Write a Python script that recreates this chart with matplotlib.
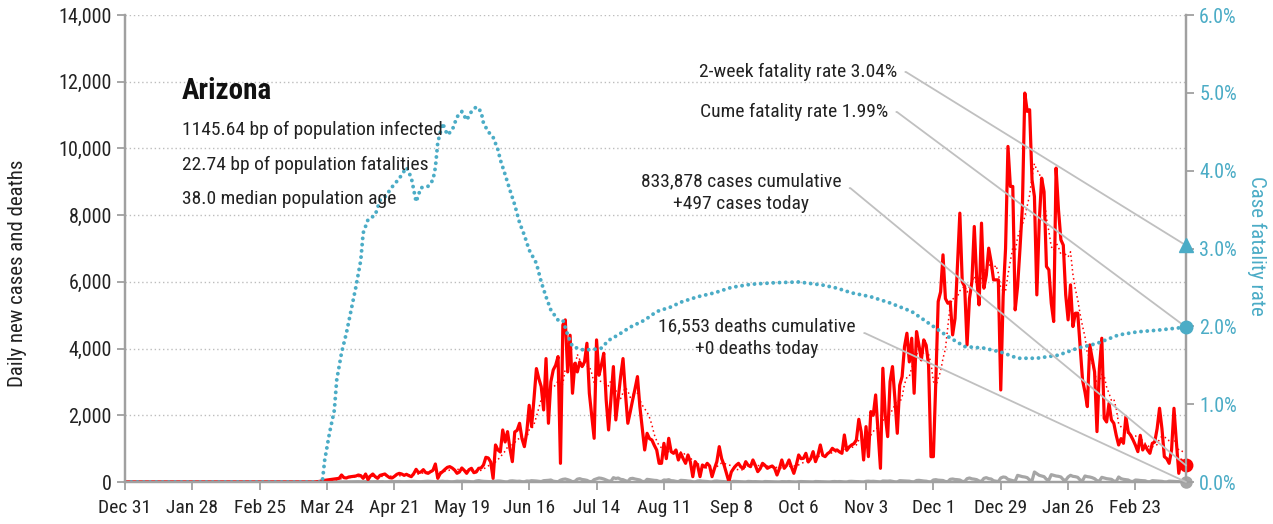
import matplotlib
matplotlib.use('Agg')
import matplotlib.pyplot as plt
import matplotlib.dates as mdates
from matplotlib.ticker import FuncFormatter, FixedLocator
import numpy as np
import pandas as pd

plt.rcParams['font.family'] = ['Roboto Condensed', 'DejaVu Sans']

start = pd.Timestamp('2019-12-31')

# daily new cases, Dec 31 2019 .. Mar 16 2021
cases = [0] * 80 + [
    10, 20, 40, 50, 60, 70, 80,
    90, 100, 110, 210, 130, 120, 150,
    160, 170, 180, 210, 190, 110, 240,
    70, 180, 240, 160, 110, 200, 220,
    240, 180, 130, 120, 170, 230, 260,
    240, 200, 230, 190, 160, 250, 380,
    280, 300, 370, 280, 260, 310, 350,
    540, 110, 250, 310, 380, 440, 460,
    420, 360, 260, 300, 420, 350, 260,
    370, 410, 280, 300, 410, 420, 510,
    740, 720, 600, 110, 1110, 960, 900,
    1560, 1200, 1510, 1000, 610, 1500, 1550,
    1760, 1300, 1060, 1500, 2300, 1660, 2500,
    3400, 3100, 2860, 2160, 3700, 1760, 3000,
    3360, 3500, 3760, 560, 4710, 4860, 3300,
    4400, 2660, 3560, 3300, 3600, 3460, 3600,
    4160, 2660, 2000, 1310, 4260, 3200, 3500,
    3860, 2460, 1560, 2500, 3460, 1860, 2500,
    3160, 3700, 2660, 1760, 2100, 2460, 2800,
    3160, 2260, 1600, 960, 1460, 1300, 1260,
    1100, 960, 560, 560, 1160, 700, 1310,
    910, 860, 960, 660, 860, 700, 560,
    810, 600, 160, 610, 500, 160, 510,
    450, 560, 480, 160, 400, 610, 1060,
    700, 510, 260, 10, 300, 410, 500,
    560, 450, 410, 610, 500, 460, 660,
    500, 310, 400, 560, 500, 410, 450,
    480, 410, 210, 400, 660, 410, 500,
    660, 450, 260, 500, 810, 700, 710,
    860, 600, 700, 910, 610, 800, 1110,
    800, 760, 850, 900, 1010, 950, 960,
    900, 860, 1410, 950, 1050, 1110, 1150,
    1260, 1880, 1500, 660, 1660, 760, 2110,
    2000, 2610, 1500, 410, 3410, 2000, 1360,
    3010, 3460, 2500, 1460, 2900, 3160, 4060,
    4460, 3600, 4310, 2660, 4510, 4100, 3660,
    4260, 4100, 3500, 760, 760, 3000, 5410,
    5700, 6810, 5500, 5360, 5400, 4410, 4900,
    6500, 8060, 6000, 5860, 4110, 5500, 6000,
    7660, 6100, 5310, 7760, 5810, 6200, 7010,
    6600, 6060, 6060, 6060, 2760, 5560, 7000,
    10060, 8860, 8860, 5160, 5860, 7000, 8260,
    11660, 11110, 11160, 9060, 8560, 5610, 7800,
    9110, 8700, 6460, 6360, 5360, 4810, 9410,
    8160, 7260, 7100, 5610, 4860, 5910, 4660,
    5060, 5060, 4060, 3060, 2700, 2260, 4110,
    3700, 3300, 1510, 3400, 4310, 1910, 1800,
    2360, 1860, 1760, 1400, 1110, 1300, 1160,
    1960, 1500, 1400, 1260, 1100, 910, 1400,
    960, 1100, 960, 860, 1160, 1200, 1600,
    2210, 1600, 760, 700, 560, 960, 2210,
    1200, 260, 660, 460, 497,
]

# daily new deaths
deaths = [0] * 80 + [
    0, 1, 0, 2, 1, 3, 2, 2, 4, 3, 5, 4, 6, 7, 5, 8, 9, 10, 7, 6, 12, 10, 8, 9, 11, 13, 10, 12, 7, 9, 11, 10,
    14, 12, 16, 10, 9, 13, 15, 18, 20, 14, 12, 10, 16, 19, 22, 18, 15, 10, 12, 20, 24, 15, 18, 9, 8, 12, 25, 20,
    22, 25, 18, 15, 8, 6, 30, 40, 28, 20, 17, 12, 10, 25, 22, 30, 28, 18, 6, 5, 30, 35, 27, 20, 25, 10, 8, 30,
    25, 40, 35, 30, 20, 12, 40, 45, 50, 60, 25, 15, 10, 55, 80, 90, 70, 45, 10, 20, 85, 100, 75, 65, 50, 15, 10, 70,
    95, 120, 110, 90, 60, 30, 25, 130, 105, 120, 80, 70, 40, 15, 100, 110, 90, 75, 60, 20, 10, 80, 70, 60, 50, 45, 20, 15,
    60, 55, 70, 40, 35, 20, 10, 50, 45, 40, 30, 25, 8, 5, 30, 35, 25, 20, 15, 5, 3, 25, 30, 20, 15, 10, 4, 2,
    5, 20, 15, 12, 10, 5, 2, 18, 14, 10, 12, 8, 3, 1, 15, 12, 10, 8, 6, 2, 1, 12, 10, 8, 14, 6, 2, 1,
    10, 14, 12, 10, 8, 3, 2, 15, 12, 10, 9, 6, 2, 1, 12, 15, 10, 14, 8, 3, 2, 18, 20, 15, 12, 10, 4, 2,
    20, 25, 18, 22, 15, 5, 3, 30, 28, 25, 32, 20, 6, 4, 40, 35, 30, 28, 25, 8, 5, 45, 50, 40, 30, 25, 8, 5,
    60, 70, 55, 50, 45, 15, 10, 80, 90, 75, 70, 60, 20, 15, 100, 120, 95, 85, 70, 30, 20, 110, 130, 100, 90, 40, 25, 15,
    120, 150, 140, 80, 60, 40, 30, 200, 180, 160, 150, 130, 60, 40, 300, 250, 200, 180, 160, 80, 60, 220, 200, 180, 170, 150, 70, 50,
    150, 200, 170, 160, 140, 60, 40, 180, 160, 150, 130, 100, 40, 30, 140, 120, 100, 90, 80, 30, 20, 150, 100, 80, 70, 60, 20, 15,
    60, 55, 45, 40, 35, 10, 8, 40, 35, 30, 25, 20, 5, 3, 25, 20, 18, 15, 10, 3, 2, 0,
]

# case fatality rate (%), day offset from Dec 31 2019
cfr_days = [0, 82, 83, 85, 87, 88, 90, 92, 94, 96, 98, 99, 101, 104, 106, 108, 111, 114, 117, 119,
            121, 123, 126, 128, 129, 130, 132, 134, 136, 138, 140, 142, 144, 146, 148, 149, 151, 153,
            155, 156, 158, 160, 162, 164, 166, 168, 171, 173, 175, 177, 180, 182, 184, 186, 190, 194,
            198, 201, 205, 210, 216, 221, 227, 231, 238, 245, 252, 260, 270, 280, 290, 296, 302, 310,
            318, 327, 335, 342, 349, 357, 364, 371, 379, 388, 396, 404, 413, 421, 429, 441]
cfr_pct = [0, 0, 0.28, 0.63, 0.92, 1.31, 1.66, 1.91, 2.21, 2.51, 2.85, 3.2, 3.37, 3.43, 3.62, 3.66, 3.79, 3.9, 4.04, 3.91,
           3.6, 3.78, 3.8, 3.88, 4.04, 4.36, 4.61, 4.46, 4.52, 4.69, 4.76, 4.65, 4.76, 4.82, 4.76, 4.61, 4.5, 4.43,
           4.27, 4.14, 3.95, 3.75, 3.56, 3.33, 3.17, 2.98, 2.81, 2.57, 2.38, 2.21, 2.08, 2.08, 1.89, 1.74, 1.7, 1.7,
           1.72, 1.82, 1.89, 1.99, 2.08, 2.19, 2.25, 2.31, 2.38, 2.43, 2.5, 2.54, 2.56, 2.57, 2.53, 2.49, 2.43, 2.38,
           2.3, 2.19, 2.02, 1.87, 1.74, 1.72, 1.67, 1.59, 1.59, 1.63, 1.72, 1.78, 1.89, 1.93, 1.95, 1.99]

tick_labels = ['Dec 31', 'Jan 28', 'Feb 25', 'Mar 24', 'Apr 21', 'May 19', 'Jun 16', 'Jul 14',
               'Aug 11', 'Sep 8', 'Oct 6', 'Nov 3', 'Dec 1', 'Dec 29', 'Jan 26', 'Feb 23']

info_lines = ['1145.64 bp of population infected', '22.74 bp of population fatalities',
              '38.0 median population age']
two_week_rate = 3.04
cume_rate = 1.99
cum_cases = 833878
cum_deaths = 16553
today_cases = 497
today_deaths = 0

RED = '#ff0000'
TEAL = '#4bacc6'
GRAY = '#a6a6a6'
AXC = '#a0a0a0'

dates = start + pd.to_timedelta(np.arange(len(cases)), unit='D')
ddates = start + pd.to_timedelta(np.arange(len(deaths)), unit='D')
cfr_dates = start + pd.to_timedelta(cfr_days, unit='D')
avg = pd.Series(cases).rolling(7, min_periods=1).mean()
end = dates[-1]
endn = mdates.date2num(end)

fig = plt.figure(figsize=(12.73, 5.24), dpi=100)
W, H = 1273, 524
ax = fig.add_axes([125 / W, (H - 482) / H, (1186 - 125) / W, (482 - 15) / H])
ax2 = ax.twinx()

ax.set_ylim(0, 14000)
ax2.set_ylim(0, 0.06)
ax.set_xlim(start, end)

for y in range(2000, 14001, 2000):
    ax.axhline(y, color='#bdbdbd', lw=1.0, ls=(0, (1, 2)), zorder=0)

ax.plot(dates, cases, color=RED, lw=2.3, zorder=3)
ax.plot(dates, avg, color=RED, lw=1.1, ls=(0, (1, 2)), zorder=3)
ax.plot(ddates, deaths, color=GRAY, lw=2.3, zorder=2)
ax2.plot(cfr_dates, np.array(cfr_pct) / 100, color=TEAL, lw=2.8,
         ls=(0, (0.01, 1.6)), dash_capstyle='round', zorder=2)

ticks = [start + pd.Timedelta(days=28 * i) for i in range(len(tick_labels))]
ax.xaxis.set_major_locator(FixedLocator(mdates.date2num(ticks)))
ax.set_xticklabels(tick_labels)
ax.yaxis.set_major_locator(FixedLocator(range(0, 14001, 2000)))
ax.yaxis.set_major_formatter(FuncFormatter(lambda v, p: f'{int(v):,}'))
ax2.yaxis.set_major_locator(FixedLocator(np.arange(0, 0.0601, 0.01)))
ax2.yaxis.set_major_formatter(FuncFormatter(lambda v, p: f'{v * 100:.1f}%'))

for a in (ax, ax2):
    a.spines['top'].set_visible(False)
    for s in ('left', 'right', 'bottom'):
        a.spines[s].set_color(AXC)
        a.spines[s].set_linewidth(1.6)
ax.tick_params(axis='both', colors=AXC, length=6, width=1.3, labelsize=14.5, labelcolor='#222222')
ax.tick_params(axis='x', pad=6, labelsize=14)
ax2.tick_params(axis='y', colors=AXC, length=6, width=1.3, labelsize=14.5, labelcolor=TEAL)

ax.set_ylabel('Daily new cases and deaths', fontsize=15, color='#222222')
ax.yaxis.set_label_coords(-0.0925, 0.447)
ax2.set_ylabel('Case fatality rate', fontsize=15, color=TEAL, rotation=270, va='center')
ax2.yaxis.set_label_coords(1.067, 0.505)

# title block
fig.text(182 / W, 1 - 91 / H, 'Arizona', fontsize=21, fontweight='bold', color='#111111',
         va='center', ha='left')
for i, line in enumerate(info_lines):
    fig.text(182 / W, 1 - (130 + 34.5 * i) / H, line, fontsize=14, color='#222222',
             va='center', ha='left')

# end-of-series markers
ax2.plot([endn], [two_week_rate / 100], marker='^', ms=10, color=TEAL, clip_on=False, zorder=6)
ax2.plot([endn], [cume_rate / 100], marker='o', ms=9, color=TEAL, clip_on=False, zorder=6)
ax.plot([endn], [today_cases], marker='o', ms=9, color=RED, clip_on=False, zorder=6)
ax.plot([endn], [today_deaths], marker='o', ms=8, color=GRAY, clip_on=False, zorder=6)

lc = '#c0c0c0'


def callout(text, tx, ty, target, trans, ha='right', relpos=(1, 0.5)):
    ax2.annotate(text, xy=target, xycoords=trans, xytext=(tx, H - ty), textcoords='figure pixels',
                 ha=ha, va='center', fontsize=14, color='#222222', linespacing=1.35,
                 multialignment='center', annotation_clip=False, zorder=5,
                 arrowprops=dict(arrowstyle='-', color=lc, lw=1.3, shrinkA=4, shrinkB=0, relpos=relpos,
                                 connectionstyle='arc,angleA=0,angleB=0,armA=9,armB=0,rad=0'))


callout(f'2-week fatality rate {two_week_rate:.2f}%', 897, 72,
        (endn, two_week_rate / 100), ax2.transData)
callout(f'Cume fatality rate {cume_rate:.2f}%', 888, 112,
        (endn, cume_rate / 100), ax2.transData)
callout(f'{cum_cases:,} cases cumulative\n+{today_cases} cases today', 741, 193,
        (endn, today_cases), ax.transData, ha='center', relpos=(1, 0.62))
callout(f'{cum_deaths:,} deaths cumulative\n+{today_deaths} deaths today', 757, 338,
        (endn, today_deaths), ax.transData, ha='center', relpos=(1, 0.62))

fig.savefig('out.png', dpi=100)
